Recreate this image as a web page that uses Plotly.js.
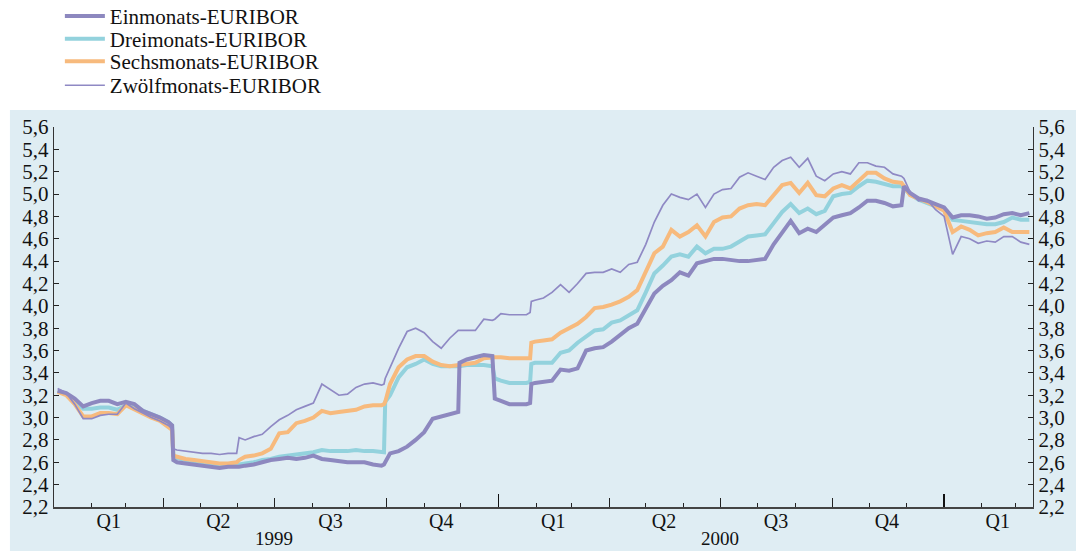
<!DOCTYPE html>
<html><head><meta charset="utf-8">
<script src="https://cdn.plot.ly/plotly-3.0.1.min.js"></script>
<style>html,body{margin:0;padding:0;background:#fff;} #chart{width:1076px;height:551px;}</style>
</head><body><div id="chart"></div>
<script>
// Weekly observation dates (with extra days around jumps)
const dates = [
 '1999-01-04','1999-01-11','1999-01-18','1999-01-25',
 '1999-02-01','1999-02-08','1999-02-15','1999-02-22',
 '1999-03-01','1999-03-08','1999-03-15','1999-03-22','1999-03-29',
 '1999-04-05','1999-04-08','1999-04-09','1999-04-12','1999-04-19','1999-04-26',
 '1999-05-03','1999-05-10','1999-05-17','1999-05-24','1999-05-31',
 '1999-06-02','1999-06-07','1999-06-14','1999-06-21','1999-06-28',
 '1999-07-05','1999-07-12','1999-07-19','1999-07-26',
 '1999-08-02','1999-08-09','1999-08-16','1999-08-23','1999-08-30',
 '1999-09-06','1999-09-13','1999-09-20','1999-09-27','1999-09-29','1999-09-30',
 '1999-10-04','1999-10-11','1999-10-18','1999-10-25',
 '1999-11-01','1999-11-08','1999-11-15','1999-11-22','1999-11-29','1999-11-30',
 '1999-12-06','1999-12-13','1999-12-20','1999-12-27','1999-12-29',
 '2000-01-03','2000-01-10','2000-01-17','2000-01-24','2000-01-27','2000-01-28','2000-01-31',
 '2000-02-07','2000-02-14','2000-02-21','2000-02-28',
 '2000-03-06','2000-03-13','2000-03-20','2000-03-27',
 '2000-04-03','2000-04-10','2000-04-17','2000-04-24',
 '2000-05-01','2000-05-08','2000-05-15','2000-05-22','2000-05-29',
 '2000-06-05','2000-06-12','2000-06-19','2000-06-26',
 '2000-07-03','2000-07-10','2000-07-17','2000-07-24','2000-07-31',
 '2000-08-07','2000-08-14','2000-08-21','2000-08-28',
 '2000-09-04','2000-09-11','2000-09-18','2000-09-25',
 '2000-10-02','2000-10-09','2000-10-16','2000-10-23','2000-10-30',
 '2000-11-06','2000-11-13','2000-11-20','2000-11-27','2000-11-29',
 '2000-12-04','2000-12-11','2000-12-18','2000-12-25',
 '2001-01-01','2001-01-08','2001-01-15','2001-01-22','2001-01-29',
 '2001-02-05','2001-02-12','2001-02-19','2001-02-26',
 '2001-03-05','2001-03-12'
];
const einmonats = [
 3.24,3.22,3.17,3.10,
 3.13,3.15,3.15,3.12,
 3.14,3.12,3.06,3.03,3.00,
 2.96,2.93,2.62,2.60,2.59,2.58,
 2.57,2.56,2.55,2.56,2.56,
 2.56,2.57,2.58,2.60,2.62,
 2.63,2.64,2.63,2.64,
 2.66,2.63,2.62,2.61,2.60,
 2.60,2.60,2.58,2.57,2.58,2.60,
 2.68,2.70,2.74,2.80,
 2.87,2.99,3.01,3.03,3.05,3.49,
 3.52,3.54,3.56,3.55,3.17,
 3.15,3.12,3.12,3.12,3.13,3.30,3.31,
 3.32,3.33,3.43,3.42,
 3.44,3.60,3.62,3.63,
 3.68,3.74,3.80,3.84,
 3.97,4.11,4.18,4.23,4.30,
 4.27,4.38,4.40,4.42,
 4.42,4.41,4.40,4.40,4.41,
 4.42,4.55,4.66,4.76,
 4.65,4.69,4.66,4.72,
 4.79,4.81,4.83,4.88,4.94,
 4.94,4.92,4.89,4.90,5.07,
 5.01,4.96,4.94,4.91,
 4.88,4.79,4.81,4.81,4.80,
 4.78,4.79,4.82,4.83,
 4.81,4.83
];
const dreimonats = [
 3.24,3.21,3.15,3.08,
 3.08,3.09,3.09,3.07,
 3.11,3.10,3.06,3.03,3.00,
 2.96,2.93,2.66,2.64,2.62,2.61,
 2.60,2.59,2.58,2.58,2.58,
 2.58,2.59,2.60,2.62,2.63,
 2.65,2.66,2.67,2.68,
 2.69,2.71,2.70,2.70,2.70,
 2.71,2.70,2.70,2.69,2.69,3.14,
 3.20,3.36,3.45,3.48,
 3.52,3.48,3.46,3.46,3.46,3.46,
 3.47,3.47,3.47,3.46,3.35,
 3.33,3.31,3.31,3.31,3.32,3.48,3.49,
 3.49,3.49,3.58,3.60,
 3.67,3.72,3.78,3.79,
 3.85,3.87,3.92,3.96,
 4.12,4.29,4.36,4.44,4.46,
 4.44,4.53,4.47,4.51,
 4.51,4.53,4.57,4.62,4.63,
 4.64,4.74,4.84,4.91,
 4.83,4.87,4.82,4.85,
 4.98,5.00,5.01,5.07,5.12,
 5.11,5.09,5.07,5.07,5.05,
 5.00,4.95,4.92,4.89,
 4.87,4.77,4.76,4.75,4.74,
 4.73,4.73,4.75,4.79,
 4.77,4.77
];
const sechsmonats = [
 3.23,3.20,3.12,3.01,
 3.01,3.04,3.04,3.03,
 3.11,3.07,3.04,3.00,2.97,
 2.92,2.89,2.66,2.65,2.63,2.62,
 2.61,2.60,2.59,2.59,2.60,
 2.62,2.65,2.66,2.68,2.72,
 2.86,2.87,2.95,2.97,
 3.00,3.06,3.04,3.05,3.06,
 3.07,3.10,3.11,3.11,3.12,3.14,
 3.30,3.45,3.52,3.55,
 3.55,3.50,3.47,3.46,3.47,3.47,
 3.48,3.49,3.53,3.54,3.54,
 3.54,3.53,3.53,3.53,3.53,3.67,3.68,
 3.69,3.70,3.76,3.80,
 3.84,3.90,3.98,3.99,
 4.01,4.04,4.08,4.14,
 4.30,4.47,4.53,4.68,4.62,
 4.66,4.72,4.62,4.75,
 4.79,4.80,4.87,4.90,4.91,
 4.90,4.99,5.08,5.10,
 5.01,5.10,4.99,4.98,
 5.05,5.08,5.05,5.12,5.19,
 5.19,5.14,5.11,5.10,5.07,
 4.99,4.96,4.93,4.89,
 4.85,4.66,4.71,4.68,4.63,
 4.65,4.66,4.70,4.66,
 4.66,4.66
];
const zwoelfmonats = [
 3.26,3.22,3.12,2.99,
 2.99,3.02,3.03,3.03,
 3.13,3.08,3.04,3.00,2.97,
 2.93,2.90,2.72,2.71,2.70,2.69,
 2.68,2.68,2.67,2.68,2.68,
 2.82,2.80,2.83,2.85,2.92,
 2.98,3.02,3.07,3.10,
 3.13,3.30,3.25,3.20,3.21,
 3.27,3.30,3.31,3.29,3.30,3.35,
 3.45,3.62,3.77,3.80,
 3.76,3.68,3.62,3.71,3.78,3.78,
 3.78,3.78,3.88,3.87,3.88,
 3.93,3.92,3.92,3.92,3.94,4.04,4.05,
 4.07,4.12,4.19,4.12,
 4.20,4.29,4.30,4.30,
 4.33,4.30,4.37,4.39,
 4.55,4.75,4.90,5.00,4.97,
 4.95,5.00,4.88,5.00,
 5.04,5.05,5.15,5.19,5.16,
 5.13,5.24,5.30,5.33,
 5.24,5.32,5.16,5.12,
 5.18,5.20,5.18,5.28,5.28,
 5.25,5.24,5.18,5.16,5.14,
 5.02,4.94,4.95,4.86,
 4.80,4.46,4.62,4.60,4.56,
 4.58,4.57,4.62,4.62,
 4.57,4.55
];
const seriesNames = ['Einmonats-EURIBOR','Dreimonats-EURIBOR','Sechsmonats-EURIBOR','Zwölfmonats-EURIBOR'];
const quarterLabels = ['Q1','Q2','Q3','Q4','Q1','Q2','Q3','Q4','Q1'];
const quarterMids = ['1999-02-15','1999-05-16','1999-08-16','1999-11-15','2000-02-15','2000-05-16','2000-08-16','2000-11-15','2001-02-14'];
const quarterBounds = ['1999-04-01','1999-07-01','1999-10-01','2000-01-01','2000-04-01','2000-07-01','2000-10-01','2001-01-01'];
const yearBounds = ['2000-01-01','2001-01-01'];
const yearLabels = ['1999','2000'];
const yearMids = ['1999-07-01','2000-07-01'];
const xRange = ['1999-01-01','2001-03-15'];
const yRange = [2.2, 5.6];

const FONT = '"Liberation Serif", "Times New Roman", serif';
const PURPLE = '#8d88bf', CYAN = '#93d2dd', ORANGE = '#f7ba7d', PURPLE_THIN = '#8f89c4';

const traces = [
  {x:dates, y:dreimonats, name:seriesNames[1], mode:'lines', line:{color:CYAN, width:4}, legend:'legend2', hoverinfo:'skip'},
  {x:dates, y:sechsmonats, name:seriesNames[2], mode:'lines', line:{color:ORANGE, width:4}, legend:'legend3', hoverinfo:'skip'},
  {x:dates, y:einmonats, name:seriesNames[0], mode:'lines', line:{color:PURPLE, width:4}, legend:'legend', hoverinfo:'skip'},
  {x:dates, y:zwoelfmonats, name:seriesNames[3], mode:'lines', line:{color:PURPLE_THIN, width:1.7}, legend:'legend4', hoverinfo:'skip'},
  // invisible helpers so the overlaying axes are drawn
  {x:dates, y:zwoelfmonats, xaxis:'x2', yaxis:'y', mode:'lines', line:{color:'rgba(0,0,0,0)'}, showlegend:false, hoverinfo:'skip'},
  {x:dates, y:zwoelfmonats, xaxis:'x3', yaxis:'y', mode:'lines', line:{color:'rgba(0,0,0,0)'}, showlegend:false, hoverinfo:'skip'},
  {x:dates, y:zwoelfmonats, xaxis:'x', yaxis:'y2', mode:'lines', line:{color:'rgba(0,0,0,0)'}, showlegend:false, hoverinfo:'skip'}
];

function legendAt(yPaper){
  return {x:0.006, xanchor:'left', y:yPaper, yanchor:'middle', bgcolor:'rgba(0,0,0,0)', borderwidth:0,
          font:{family:FONT, size:21, color:'#111'}, itemwidth:40, orientation:'v'};
}
const yAxisCommon = {range:yRange, tick0:2.2, dtick:0.2, tickformat:'.1f', ticks:'inside', ticklen:5, tickwidth:1,
  tickcolor:'#222', showline:true, linecolor:'#333', linewidth:1.2, showgrid:false, zeroline:false,
  tickfont:{family:FONT, size:21, color:'#111'}, fixedrange:true};

const layout = {
  width:1076, height:551,
  margin:{l:54, r:43, t:127, b:44, pad:0, autoexpand:false},
  paper_bgcolor:'#ffffff', plot_bgcolor:'rgba(0,0,0,0)',
  separators:',.',
  font:{family:FONT, size:21, color:'#111'},
  showlegend:true,
  legend:legendAt(1.291), legend2:legendAt(1.231), legend3:legendAt(1.172), legend4:legendAt(1.109),
  xaxis:{type:'date', range:xRange, showgrid:false, zeroline:false, showline:true, linecolor:'#444', linewidth:1.5,
    ticks:'inside', ticklen:9, tickwidth:1, tickcolor:'#222', tickmode:'array', tickvals:quarterBounds, showticklabels:false,
    minor:{ticks:'inside', ticklen:4, tickwidth:1, tickcolor:'#222', dtick:'M1', tick0:'1999-01-01', showgrid:false}},
  xaxis2:{type:'date', overlaying:'x', anchor:'y', side:'bottom', range:xRange, showgrid:false, zeroline:false, showline:false,
    ticks:'', tickmode:'array', tickvals:quarterMids, ticktext:quarterLabels, tickfont:{family:FONT, size:20, color:'#111'}},
  xaxis3:{type:'date', overlaying:'x', anchor:'y', side:'bottom', range:xRange, showgrid:false, zeroline:false, showline:false,
    ticks:'inside', ticklen:13, tickwidth:1.6, tickcolor:'#111', tickmode:'array', tickvals:yearBounds, showticklabels:false},
  yaxis:Object.assign({}, yAxisCommon, {side:'left'}),
  yaxis2:Object.assign({}, yAxisCommon, {side:'right', overlaying:'y', anchor:'x'}),
  shapes:[{type:'rect', xref:'paper', yref:'paper', x0:-0.045, x1:1.06, y0:-0.3, y1:1.0447,
           fillcolor:'#dfedf3', line:{width:0}, layer:'below'}],
  annotations: yearLabels.map((t,i)=>({text:t, x:yearMids[i], xref:'x', y:-0.084, yref:'paper', yanchor:'middle',
           showarrow:false, font:{family:FONT, size:19, color:'#111'}}))
};

Plotly.newPlot('chart', traces, layout, {staticPlot:true, displayModeBar:false});
</script>
</body></html>
